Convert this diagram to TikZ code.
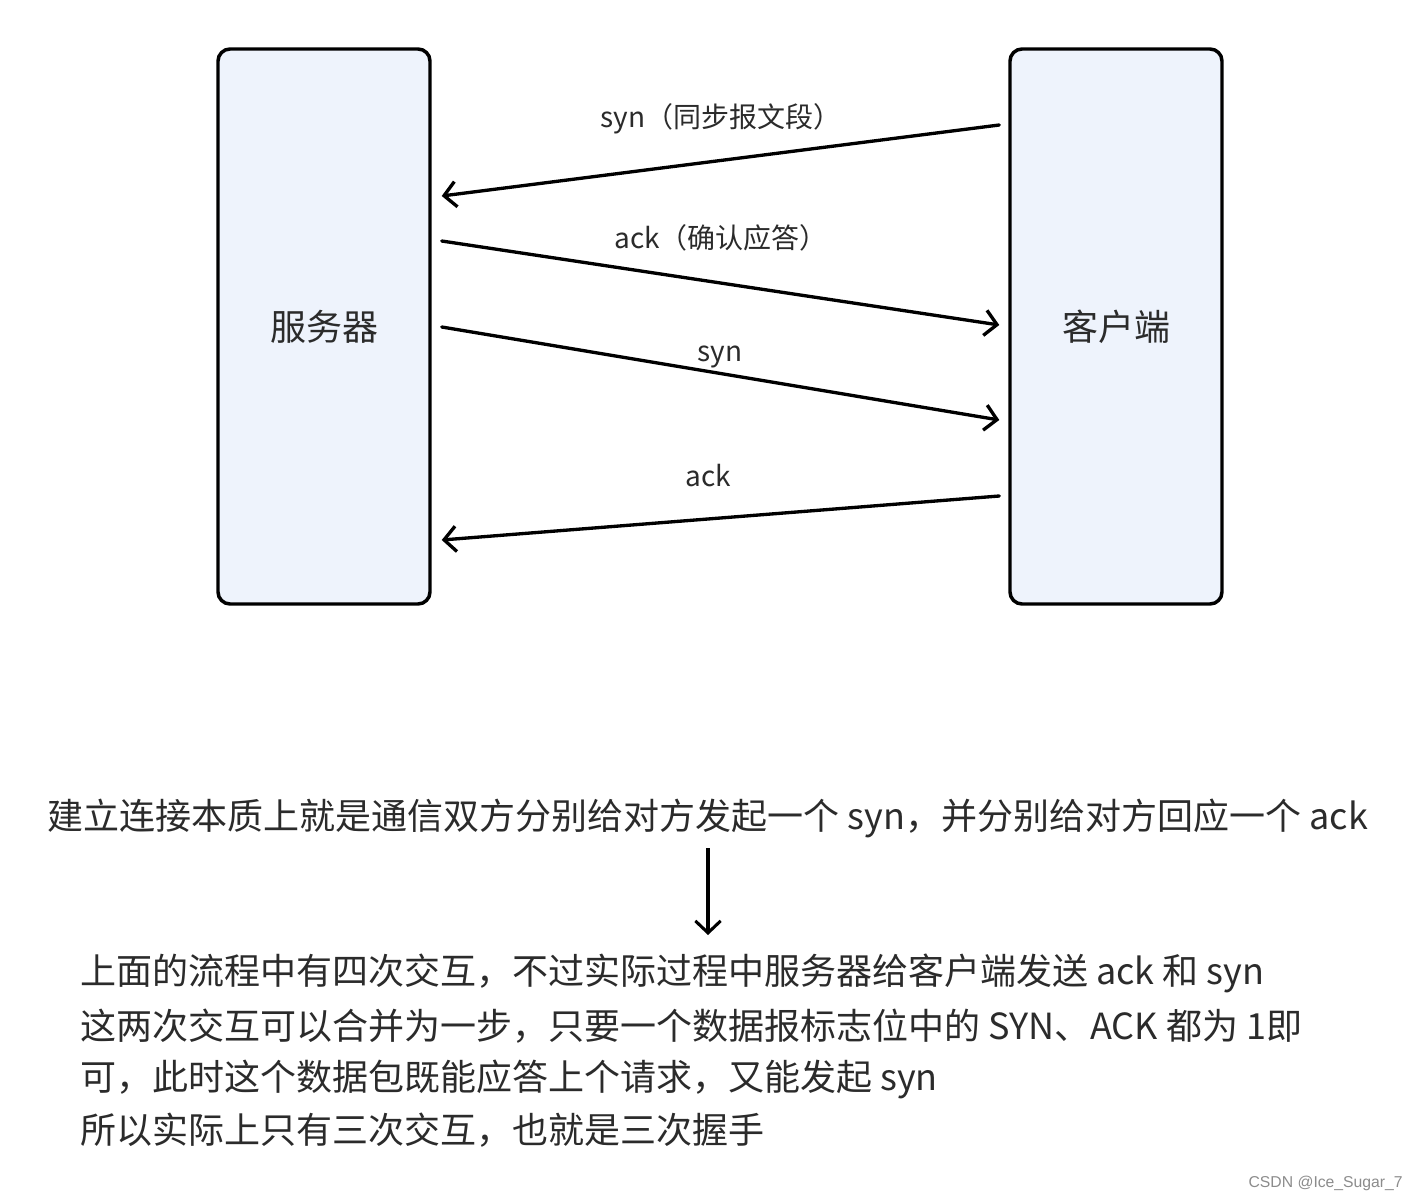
\documentclass[tikz,border=0pt]{standalone}
\usepackage{fontspec}
\setmainfont{Noto Sans CJK SC}
\newfontfamily\wmfont{Liberation Sans}
\usetikzlibrary{arrows.meta,calc}
\definecolor{boxfill}{HTML}{EEF3FC}
\definecolor{txt}{HTML}{2B2B2B}
\begin{document}
\begin{tikzpicture}[x=0.75pt,y=-0.75pt,
  box/.style={draw=black,fill=boxfill,line width=2.6pt,rounded corners=9pt,
    minimum width=159pt,minimum height=416.25pt,inner sep=0pt,
    text=txt,font=\fontsize{27pt}{30pt}\selectfont},
  msg/.style={line width=2.5pt,line cap=round,-{Straight Barb[length=9pt,width=19pt,line width=2.5pt]}},
  lbl/.style={text=txt,font=\fontsize{21pt}{24pt}\selectfont,inner sep=0pt},
  para/.style={text=txt,font=\fontsize{27pt}{30pt}\selectfont,inner sep=0pt,anchor=west}]
\useasboundingbox[fill=white] (0,0) rectangle (1418,1202);
\node[box] (server) at (324,326.5) {服务器};
\node[box] (client) at (1116,326.5) {客户端};
\draw[msg] ($(client.west)+(-9,-201.5)$) -- ($(server.east)+(10,-130.5)$);
\draw[msg] ($(server.east)+(10,-85.5)$) -- ($(client.west)+(-9,-1.5)$);
\draw[msg] ($(server.east)+(10,0.5)$) -- ($(client.west)+(-9,93.5)$);
\draw[msg] ($(client.west)+(-9,169.5)$) -- ($(server.east)+(10,213.5)$);
\node[lbl] (l1) at (721,119) {syn（同步报文段）};
\node[lbl] (l2) at (721,238) {ack（确认应答）};
\node[lbl] (l3) at (720,357) {syn};
\node[lbl] (l4) at (708,476) {ack};
\node[text=txt,font=\fontsize{27pt}{30pt}\selectfont,inner sep=0pt] (top) at (708,818) {建立连接本质上就是通信双方分别给对方发起一个 syn，并分别给对方回应一个 ack};
\coordinate (d1) at (708,848);
\coordinate (d2) at (708,935);
\draw[line width=2.3pt,-{Straight Barb[length=9pt,width=19pt,line width=2.3pt]}] (d1) -- (d2);
\node[para] (p1) at (80,973) {上面的流程中有四次交互，不过实际过程中服务器给客户端发送 ack 和 syn};
\node[para] (p2) at (80,1026) {这两次交互可以合并为一步，只要一个数据报标志位中的 SYN、ACK 都为 1即};
\node[para] (p3) at (80,1079) {可，此时这个数据包既能应答上个请求，又能发起 syn};
\node[para] (p4) at (80,1130) {所以实际上只有三次交互，也就是三次握手};
\node[anchor=east,inner sep=0pt,text=black!45,font=\wmfont\fontsize{11.8pt}{14pt}\selectfont] (wm) at (1403,1183) {CSDN @Ice\_Sugar\_7};
\end{tikzpicture}
\end{document}
